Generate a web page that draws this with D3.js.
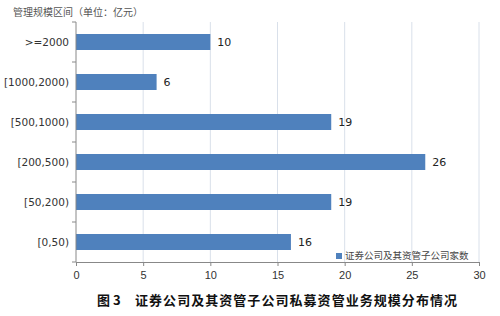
<!DOCTYPE html>
<html>
<head>
<meta charset="utf-8">
<script src="https://cdn.jsdelivr.net/npm/d3@7"></script>
<style>
  body { margin: 0; background: #fff; }
  svg { display: block; font-family: "DejaVu Sans", "Noto Sans CJK SC", sans-serif; }
</style>
</head>
<body>
<div class="chart"></div>
<script>
const categories = [">=2000", "[1000,2000)", "[500,1000)", "[200,500)", "[50,200)", "[0,50)"];
const counts = [10, 6, 19, 26, 19, 16];
const xTicks = [0, 5, 10, 15, 20, 25, 30];
const seriesName = "证券公司及其资管子公司家数";

const width = 500;
const height = 316;
const margin = { top: 22, right: 21, bottom: 54, left: 76 };

const svg = d3.select(".chart").append("svg")
  .attr("width", width)
  .attr("height", height);

const x = d3.scaleLinear()
  .domain([0, 30])
  .range([margin.left, width - margin.right]);

const y = d3.scaleBand()
  .domain(categories)
  .range([margin.top, height - margin.bottom])
  .paddingInner(0.6)
  .paddingOuter(0.3);

// grid
svg.append("g")
  .selectAll("line")
  .data(xTicks.slice(1))
  .join("line")
  .attr("x1", (d) => x(d))
  .attr("x2", (d) => x(d))
  .attr("y1", margin.top)
  .attr("y2", height - margin.bottom)
  .attr("stroke", "#d9e0ea")
  .attr("stroke-width", 1);

// bars
svg.append("g")
  .selectAll("rect")
  .data(counts)
  .join("rect")
  .attr("x", x(0))
  .attr("y", (d, i) => y(categories[i]))
  .attr("width", (d) => x(d) - x(0))
  .attr("height", y.bandwidth())
  .attr("fill", "#4f81bd");

// value labels
svg.append("g")
  .selectAll("text")
  .data(counts)
  .join("text")
  .attr("x", (d) => x(d) + 7)
  .attr("y", (d, i) => y(categories[i]) + y.bandwidth() / 2)
  .attr("dy", "0.35em")
  .attr("font-size", 11)
  .attr("fill", "#222")
  .text((d) => d);

// x axis
const xAxis = svg.append("g")
  .attr("transform", `translate(0,${height - margin.bottom})`)
  .call(d3.axisBottom(x).tickValues(xTicks).tickSize(4).tickSizeOuter(0));
xAxis.select(".domain").attr("stroke", "#888");
xAxis.selectAll(".tick line").attr("stroke", "#888");
xAxis.selectAll(".tick text").attr("font-size", 11).attr("fill", "#333").attr("dy", "0.9em");

// y axis: ticks at band edges
const yAxis = svg.append("g").attr("transform", `translate(${margin.left},0)`);
yAxis.append("line")
  .attr("y1", margin.top)
  .attr("y2", height - margin.bottom)
  .attr("stroke", "#888");
const step = y.step();
yAxis.selectAll(".edge")
  .data(d3.range(categories.length + 1))
  .join("line")
  .attr("class", "edge")
  .attr("x1", -4)
  .attr("x2", 0)
  .attr("y1", (i) => margin.top + i * step)
  .attr("y2", (i) => margin.top + i * step)
  .attr("stroke", "#888");
yAxis.selectAll(".cat")
  .data(categories)
  .join("text")
  .attr("class", "cat")
  .attr("x", -7)
  .attr("y", (d) => y(d) + y.bandwidth() / 2)
  .attr("dy", "0.35em")
  .attr("text-anchor", "end")
  .attr("font-size", 10.5)
  .attr("fill", "#333")
  .text((d) => d);

// axis title
svg.append("text")
  .attr("x", 13)
  .attr("y", 16)
  .attr("font-size", 10)
  .attr("font-family", "Noto Sans CJK SC")
  .attr("fill", "#555")
  .text("管理规模区间（单位：亿元）");

// legend
const legend = svg.append("g").attr("transform", "translate(336,252)");
legend.append("rect")
  .attr("width", 6)
  .attr("height", 6)
  .attr("y", 1)
  .attr("fill", "#4f81bd");
legend.append("text")
  .attr("x", 9)
  .attr("y", 4)
  .attr("dy", "0.35em")
  .attr("font-size", 9.5)
  .attr("font-family", "Noto Sans CJK SC")
  .attr("fill", "#444")
  .text(seriesName);

// caption
svg.append("text")
  .attr("x", 97)
  .attr("y", 305)
  .attr("font-size", 13)
  .attr("font-weight", "bold")
  .attr("font-family", "Noto Sans CJK SC")
  .attr("fill", "#111")
  .text("图 3");
svg.append("text")
  .attr("x", 135)
  .attr("y", 305)
  .attr("font-size", 13)
  .attr("font-weight", "bold")
  .attr("font-family", "Noto Sans CJK SC")
  .attr("fill", "#111")
  .attr("textLength", 322)
  .attr("lengthAdjust", "spacing")
  .text("证券公司及其资管子公司私募资管业务规模分布情况");
</script>
</body>
</html>
